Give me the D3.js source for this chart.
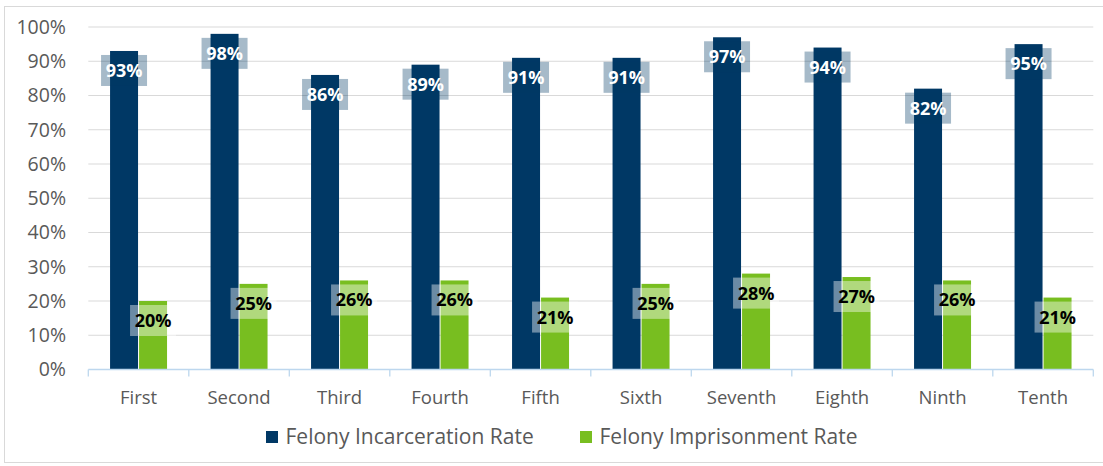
<!DOCTYPE html>
<html>
<head>
<meta charset="utf-8">
<script src="https://cdn.jsdelivr.net/npm/d3@7"></script>
<style>
  html, body { margin: 0; padding: 0; background: #fff; }
  svg { display: block; }
  text { font-family: "Open Sans", "Liberation Sans", sans-serif; }
</style>
</head>
<body>
<svg id="chart" width="1103" height="466"></svg>
<script>
// Judicial districts and their felony sentencing rates (percent)
const districts = ["First", "Second", "Third", "Fourth", "Fifth", "Sixth", "Seventh", "Eighth", "Ninth", "Tenth"];
const incarcerationRate = [93, 98, 86, 89, 91, 91, 97, 94, 82, 95];
const imprisonmentRate = [20, 25, 26, 26, 21, 25, 28, 27, 26, 21];
const seriesNames = ["Felony Incarceration Rate", "Felony Imprisonment Rate"];
const yTicks = [0, 10, 20, 30, 40, 50, 60, 70, 80, 90, 100];

const colors = { [seriesNames[0]]: "#003865", [seriesNames[1]]: "#78be20" };
const labelBox = { [seriesNames[0]]: "rgba(0,56,101,0.35)", [seriesNames[1]]: "rgba(255,255,255,0.42)" };
const labelInk = { [seriesNames[0]]: "#ffffff", [seriesNames[1]]: "#000000" };

const rows = districts.map((d, i) => ({
  district: d,
  values: [
    { series: seriesNames[0], value: incarcerationRate[i] },
    { series: seriesNames[1], value: imprisonmentRate[i] }
  ]
}));

const svg = d3.select("#chart");
const plot = { left: 88.3, right: 1093.3, top: 27, bottom: 369.5 };

// Outer frame of the chart area
svg.append("rect")
  .attr("x", 4.5).attr("y", 6.5)
  .attr("width", 1110).attr("height", 456)
  .attr("fill", "none").attr("stroke", "#d9d9d9").attr("stroke-width", 1);

const x = d3.scaleBand().domain(districts)
  .range([plot.left, plot.right])
  .paddingInner(0.433).paddingOuter(0.2165);
const xs = d3.scaleBand().domain(seriesNames)
  .range([0, x.bandwidth()]).paddingInner(0.035);
const y = d3.scaleLinear().domain([0, 100]).range([plot.bottom, plot.top]);

// Horizontal gridlines
svg.append("g").selectAll("line")
  .data(yTicks.filter(t => t > 0))
  .join("line")
  .attr("x1", plot.left).attr("x2", plot.right)
  .attr("y1", d => y(d)).attr("y2", d => y(d))
  .attr("stroke", "#d9d9d9").attr("stroke-width", 1.2);

// Y axis labels
const yAxis = d3.axisLeft(y).tickValues(yTicks).tickFormat(d => d + "%").tickSize(0).tickPadding(0);
svg.append("g")
  .attr("transform", `translate(66,0)`)
  .call(yAxis)
  .call(g => g.select(".domain").remove())
  .call(g => g.selectAll("text")
    .attr("fill", "#595959")
    .style("font-size", "19.5px")
    .style("font-family", "'Open Sans', sans-serif"));

// Bars
const groups = svg.append("g").selectAll("g")
  .data(rows).join("g")
  .attr("transform", d => `translate(${x(d.district)},0)`);

groups.selectAll("rect")
  .data(d => d.values).join("rect")
  .attr("x", d => xs(d.series))
  .attr("width", xs.bandwidth())
  .attr("y", d => y(d.value))
  .attr("height", d => y(0) - y(d.value))
  .attr("fill", d => colors[d.series]);

// Category axis with boundary ticks
const xAxisG = svg.append("g");
xAxisG.append("line")
  .attr("x1", plot.left).attr("x2", plot.right)
  .attr("y1", plot.bottom).attr("y2", plot.bottom)
  .attr("stroke", "#bdd7ee").attr("stroke-width", 1.3);
const boundaries = districts.map(d => x(d) - x.step() * x.paddingInner() / 2).concat([plot.right]);
xAxisG.selectAll("line.tick")
  .data(boundaries).join("line")
  .attr("class", "tick")
  .attr("x1", d => d).attr("x2", d => d)
  .attr("y1", plot.bottom).attr("y2", plot.bottom + 7)
  .attr("stroke", "#bdd7ee").attr("stroke-width", 1.3);
xAxisG.selectAll("text")
  .data(districts).join("text")
  .attr("x", d => x(d) + x.bandwidth() / 2)
  .attr("y", 404)
  .attr("text-anchor", "middle")
  .attr("fill", "#595959")
  .style("font-size", "18.5px")
  .text(d => d);

// Data labels with translucent boxes
const boxW = 46, boxH = 31;
const labels = groups.selectAll("g.lab")
  .data(d => d.values).join("g")
  .attr("class", "lab")
  .attr("transform", d => `translate(${xs(d.series) + xs.bandwidth() / 2},${y(d.value) + 19.5})`);
labels.append("rect")
  .attr("x", -boxW / 2).attr("y", -boxH / 2)
  .attr("width", boxW).attr("height", boxH)
  .attr("fill", d => labelBox[d.series]);
labels.append("text")
  .attr("text-anchor", "middle")
  .attr("dy", "0.36em")
  .attr("fill", d => labelInk[d.series])
  .style("font-size", "18px")
  .style("font-weight", "700")
  .text(d => d.value + "%");

// Legend
const legend = svg.append("g");
const legendX = [266, 580];
seriesNames.forEach((s, i) => {
  legend.append("rect")
    .attr("x", legendX[i]).attr("y", 431)
    .attr("width", 12).attr("height", 12)
    .attr("fill", colors[s]);
  legend.append("text")
    .attr("x", legendX[i] + 19.5).attr("y", 444)
    .attr("fill", "#595959")
    .style("font-size", "21px")
    .text(s);
});
</script>
</body>
</html>
